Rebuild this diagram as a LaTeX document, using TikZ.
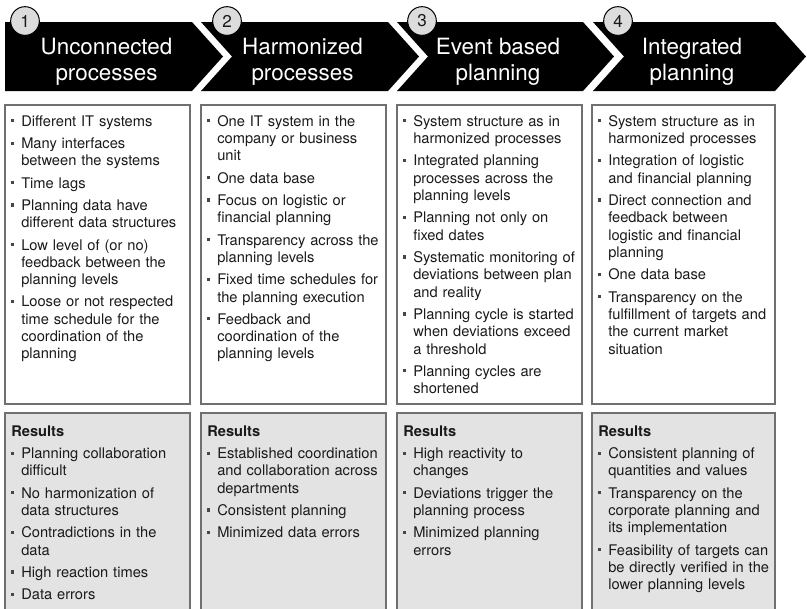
\documentclass[tikz,border=0pt]{standalone}
\usepackage{fontspec}
\setmainfont{TeX Gyre Heros}
\definecolor{pgframe}{RGB}{112,112,112}
\definecolor{pgresult}{RGB}{227,227,227}
\definecolor{pgcircle}{RGB}{220,220,220}
\definecolor{pgtext}{RGB}{26,26,26}
\definecolor{pgbullet}{RGB}{70,70,70}

% one bullet point, lines broken by hand
\newcommand\pitem[1]{\noindent\hangindent=7.5pt\hangafter=1%
  \makebox[7.5pt][l]{\strut\textcolor{pgbullet}{\rule[2.9pt]{2.4pt}{2.4pt}}}#1\par}

\begin{document}
\begin{tikzpicture}[
    x=0.75pt, y=-0.75pt,
    chev/.style={fill=black},
    frame/.style={draw=pgframe, line width=1pt},
    res/.style={frame, fill=pgresult},
    num/.style={circle, draw=black, fill=pgcircle, line width=0.75pt, minimum size=21.5pt, inner sep=0pt, text=pgtext, font=\fontsize{12.8}{14}\selectfont},
    ttl/.style={anchor=north, inner sep=0pt, align=center, text=white, font=\fontsize{16.8}{19.2}\selectfont},
    txt/.style={anchor=north west, inner sep=0pt, text width=150pt, align=left, text=pgtext, font=\fontsize{11}{13}\selectfont, execute at begin node={\setlength{\parskip}{3.7pt}}},
  ]
  \useasboundingbox (0,0) rectangle (807,608);

  % the four steps
  \foreach \L/\R/\n in {5/192/0, 201/388/31, 397/583/31, 593/775/31}
    \fill[chev] (\L,22) -- (\R,22) -- (\R+31,56.5) -- (\R,91) -- (\L,91) -- (\L+\n,56.5) -- cycle;

  \node[num] (n1) at (25,21)  {1};
  \node[num] (n2) at (227,21) {2};
  \node[num] (n3) at (422,21) {3};
  \node[num] (n4) at (618,21) {4};

  \node[ttl] (t1) at (106.5,36.4) {\strut Unconnected\\\strut processes};
  \node[ttl] (t2) at (302.5,36.4) {\strut Harmonized\\\strut processes};
  \node[ttl] (t3) at (498,36.4)   {\strut Event based\\\strut planning};
  \node[ttl] (t4) at (692,36.4)   {\strut Integrated\\\strut planning};

  % the boxes below
  \foreach \L/\R in {5/190, 201/386, 397/582, 592/775} {
    \draw[frame] (\L,105) rectangle (\R,404);
    \draw[res] (\L,413) rectangle (\R,614);
  }

  % features
  \node[txt] (a1) at (11,113.9) {%
    \pitem{Different IT systems}
    \pitem{Many interfaces\newline between the systems}
    \pitem{Time lags}
    \pitem{Planning data have\newline different data structures}
    \pitem{Low level of (or no)\newline feedback between the\newline planning levels}
    \pitem{Loose or not respected\newline time schedule for the\newline coordination of the\newline planning}};
  \node[txt] (a2) at (207,113.9) {%
    \pitem{One IT system in the\newline company or business\newline unit}
    \pitem{One data base}
    \pitem{Focus on logistic or\newline financial planning}
    \pitem{Transparency across the\newline planning levels}
    \pitem{Fixed time schedules for\newline the planning execution}
    \pitem{Feedback and\newline coordination of the\newline planning levels}};
  \node[txt] (a3) at (403,113.9) {%
    \pitem{System structure as in\newline harmonized processes}
    \pitem{Integrated planning\newline processes across the\newline planning levels}
    \pitem{Planning not only on\newline fixed dates}
    \pitem{Systematic monitoring of\newline deviations between plan\newline and reality}
    \pitem{Planning cycle is started\newline when deviations exceed\newline a threshold}
    \pitem{Planning cycles are\newline shortened}};
  \node[txt] (a4) at (598,113.9) {%
    \pitem{System structure as in\newline harmonized processes}
    \pitem{Integration of logistic\newline and financial planning}
    \pitem{Direct connection and\newline feedback between\newline logistic and financial\newline planning}
    \pitem{One data base}
    \pitem{Transparency on the\newline fulfillment of targets and\newline the current market\newline situation}};

  % results
  \node[txt] (r1) at (11,423.9) {\strut\textbf{Results}\par
    \pitem{Planning collaboration\newline difficult}
    \pitem{No harmonization of\newline data structures}
    \pitem{Contradictions in the\newline data}
    \pitem{High reaction times}
    \pitem{Data errors}};
  \node[txt] (r2) at (207,423.9) {\strut\textbf{Results}\par
    \pitem{Established coordination\newline and collaboration across\newline departments}
    \pitem{Consistent planning}
    \pitem{Minimized data errors}};
  \node[txt] (r3) at (403,423.9) {\strut\textbf{Results}\par
    \pitem{High reactivity to\newline changes}
    \pitem{Deviations trigger the\newline planning process}
    \pitem{Minimized planning\newline errors}};
  \node[txt] (r4) at (598,423.9) {\strut\textbf{Results}\par
    \pitem{Consistent planning of\newline quantities and values}
    \pitem{Transparency on the\newline corporate planning and\newline its implementation}
    \pitem{Feasibility of targets can\newline be directly verified in the\newline lower planning levels}};

\end{tikzpicture}
\end{document}
